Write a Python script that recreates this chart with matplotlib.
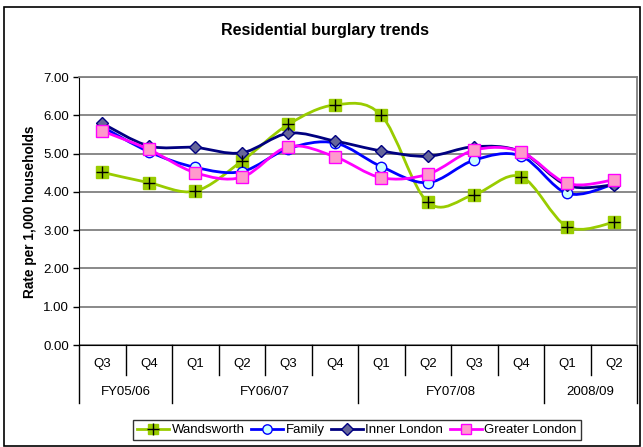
import matplotlib
matplotlib.use("Agg")
import matplotlib.pyplot as plt
from matplotlib.path import Path
from matplotlib.patches import PathPatch, Rectangle
from matplotlib.lines import Line2D
import numpy as np

plt.rcParams['font.family'] = ['Liberation Sans', 'DejaVu Sans']

quarters = ['Q3', 'Q4', 'Q1', 'Q2', 'Q3', 'Q4', 'Q1', 'Q2', 'Q3', 'Q4', 'Q1', 'Q2']
groups = ['FY05/06', 'FY06/07', 'FY07/08', '2008/09']
group_sizes = [2, 4, 4, 2]

wandsworth = [4.51, 4.24, 4.02, 4.80, 5.76, 6.27, 6.00, 3.73, 3.93, 4.40, 3.09, 3.20]
family = [5.70, 5.05, 4.64, 4.53, 5.13, 5.28, 4.66, 4.24, 4.83, 4.94, 3.96, 4.20]
inner_london = [5.79, 5.20, 5.16, 5.02, 5.53, 5.33, 5.07, 4.93, 5.18, 5.05, 4.17, 4.18]
greater_london = [5.59, 5.11, 4.50, 4.38, 5.18, 4.92, 4.37, 4.46, 5.09, 5.05, 4.22, 4.31]

series = [
    ('Wandsworth', wandsworth, dict(color='#99CC00', marker='s', mfc='#99CC00', mec='#99CC00', ms=8.5)),
    ('Family', family, dict(color='#0000FF', marker='o', mfc='#CCFFFF', mec='#0000FF', ms=7.5)),
    ('Inner London', inner_london, dict(color='#000080', marker='D', mfc='#666699', mec='#000080', ms=6.5)),
    ('Greater London', greater_london, dict(color='#FF00FF', marker='s', mfc='#FF99CC', mec='#FF00FF', ms=8)),
]

W, H = 643, 447
fig = plt.figure(figsize=(W / 100, H / 100), dpi=100)
fig.patch.set_facecolor('white')

L, R, T, B = 79, 637, 77, 345
ax = fig.add_axes([L / W, 1 - B / H, (R - L) / W, (B - T) / H])
n = len(quarters)
x = np.arange(n)
ax.set_xlim(-0.5, n - 0.5)
ax.set_ylim(0, 7)
ax.set_yticks(np.arange(0, 8, 1))
ax.set_yticklabels([f'{v:.2f}' for v in np.arange(0, 8, 1)], fontsize=9.5)
ax.yaxis.grid(True, color='#808080', lw=1.3)
ax.set_axisbelow(True)
for s in ['top', 'right']:
    ax.spines[s].set_color('#808080')
    ax.spines[s].set_linewidth(1.3)
ax.spines['left'].set_color('black')
ax.spines['bottom'].set_color('black')
ax.tick_params(axis='y', length=4, width=1, color='black', pad=3)
ax.set_xticks(x)
ax.set_xticklabels(quarters, fontsize=9.5)
ax.tick_params(axis='x', length=0, pad=9)


def smooth_path(xs, ys):
    pts = np.column_stack([xs, ys])
    verts = [pts[0]]
    codes = [Path.MOVETO]
    m = len(pts)
    for i in range(m - 1):
        p0 = pts[i - 1] if i > 0 else pts[i]
        p1 = pts[i]
        p2 = pts[i + 1]
        p3 = pts[i + 2] if i + 2 < m else pts[i + 1]
        c1 = p1 + (p2 - p0) / 6.0
        c2 = p2 - (p3 - p1) / 6.0
        verts += [c1, c2, p2]
        codes += [Path.CURVE4] * 3
    return Path(verts, codes)


handles = []
for name, vals, st in series:
    patch = PathPatch(smooth_path(x, vals), fill=False, edgecolor=st['color'], lw=2.0, zorder=3)
    ax.add_patch(patch)
    ax.plot(x, vals, ls='none', marker=st['marker'], ms=st['ms'], mfc=st['mfc'], mec=st['mec'],
            mew=1.0, zorder=4, clip_on=False)
    if name == 'Wandsworth':
        ax.plot(x, vals, ls='none', marker='+', ms=8, mec='black', mew=1.0, zorder=5, clip_on=False)
    handles.append(Line2D([], [], color=st['color'], lw=2.0, marker=st['marker'], ms=st['ms'] * 0.9,
                          mfc=st['mfc'], mec=st['mec'], mew=1.0))

# category separators
tr = ax.get_xaxis_transform()
h_q = 30 / (B - T)
h_g = 58 / (B - T)
bounds = np.arange(n + 1) - 0.5
gb = np.concatenate([[0], np.cumsum(group_sizes)]) - 0.5
for b in bounds:
    depth = h_g if np.any(np.isclose(gb, b)) else h_q
    ax.plot([b, b], [0, -depth], transform=tr, color='black', lw=1.0, clip_on=False)
for g, a, b in zip(groups, gb[:-1], gb[1:]):
    ax.text((a + b) / 2, -(392 - 345) / (B - T), g, transform=tr, ha='center', va='center', fontsize=9.5)

# title and y label
fig.text(325 / W, 1 - 31 / H, 'Residential burglary trends', ha='center', va='center',
         fontsize=11.5, fontweight='bold')
fig.text(30 / W, 1 - 212 / H, 'Rate per 1,000 households', ha='center', va='center',
         rotation=90, fontsize=9.8, fontweight='bold')

# legend (Wandsworth handle with plus)
wh = handles[0]
plus = Line2D([], [], ls='none', marker='+', ms=8, mec='black', mew=1.0)
leg = fig.legend([(wh, plus), handles[1], handles[2], handles[3]],
                 ['Wandsworth', 'Family', 'Inner London', 'Greater London'],
                 loc='center', bbox_to_anchor=(357 / W, 1 - 430 / H), ncol=4, frameon=True,
                 fontsize=9.5, handlelength=2.4, handletextpad=0.2, columnspacing=0.5,
                 borderpad=0.3, fancybox=False, edgecolor='black')
leg.get_frame().set_linewidth(1.0)

# outer chart border
fig.patches.append(Rectangle((4 / W, 1 - 446 / H), (640 - 4) / W, (446 - 7) / H,
                             transform=fig.transFigure, fill=False, edgecolor='black', lw=1.2))

fig.savefig('out.png', dpi=100)
